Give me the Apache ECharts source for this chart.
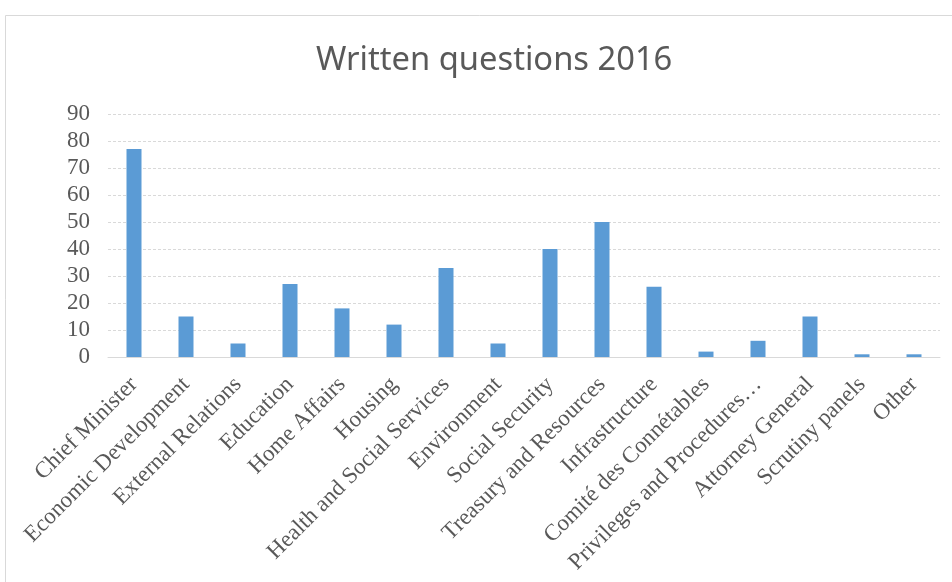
<!DOCTYPE html>
<html>
<head>
<meta charset="utf-8">
<script src="https://cdn.jsdelivr.net/npm/echarts@6/dist/echarts.min.js"></script>
<style>html,body{margin:0;padding:0;background:#fff;}#c{width:952px;height:582px;}</style>
</head>
<body>
<div id="c"></div>
<script>
const categories = ["Chief Minister","Economic Development","External Relations","Education","Home Affairs","Housing","Health and Social Services","Environment","Social Security","Treasury and Resources","Infrastructure","Comité des Connétables","Privileges and Procedures…","Attorney General","Scrutiny panels","Other"];
const values = [77,15,5,27,18,12,33,5,40,50,26,2,6,15,1,1];
const yTicks = [0,10,20,30,40,50,60,70,80,90];

const chart = echarts.init(document.getElementById('c'), null, {renderer:'canvas'});
chart.setOption({
  animation:false,
  backgroundColor:'#fff',
  graphic:[{type:'rect',shape:{x:5.5,y:15.5,width:960,height:600},style:{fill:'none',stroke:'#d9d9d9',lineWidth:1}}],
  title:{text:'Written questions 2016',left:311,top:39,textStyle:{fontFamily:'Noto Sans',fontSize:32.7,fontWeight:'normal',color:'#595959'}},
  grid:{left:108,right:12,top:114,bottom:225,containLabel:false},
  xAxis:{type:'category',data:categories,
    axisLine:{show:true,lineStyle:{color:'#d9d9d9'}},axisTick:{show:false},
    axisLabel:{rotate:45,interval:0,margin:24,fontFamily:'Liberation Serif',fontSize:23,color:'#595959'}},
  yAxis:{type:'value',min:yTicks[0],max:yTicks[yTicks.length-1],interval:10,
    axisLine:{show:false},axisTick:{show:false},
    axisLabel:{margin:18,fontFamily:'Liberation Serif',fontSize:23,color:'#595959'},
    splitLine:{lineStyle:{color:'#d9d9d9',type:[3,2]}}},
  series:[{type:'bar',data:values,barWidth:15,itemStyle:{color:'#5b9bd5'}}]
});
</script>
</body>
</html>
